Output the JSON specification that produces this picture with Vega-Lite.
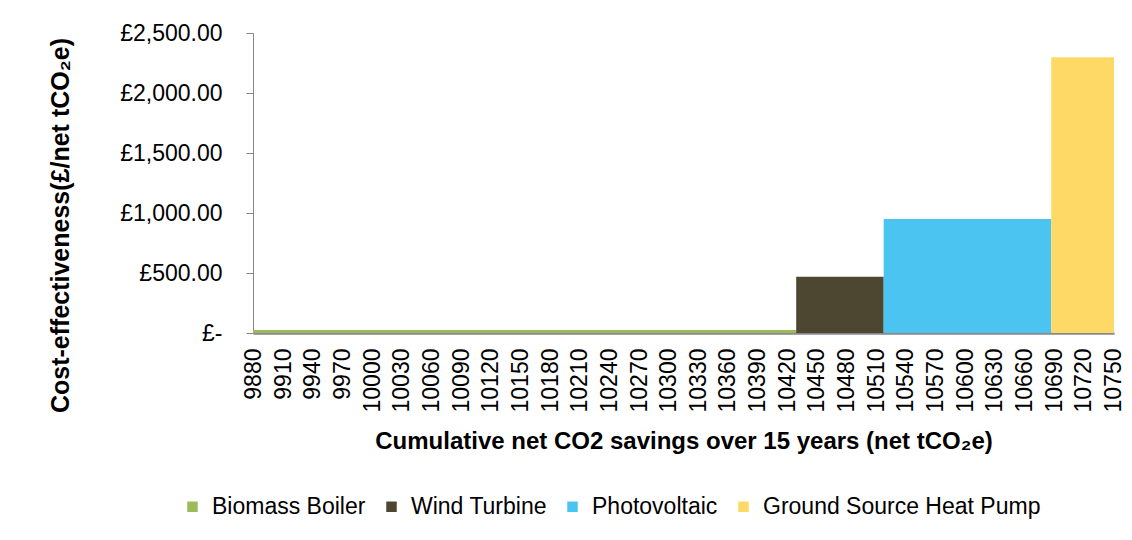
{
  "$schema": "https://vega.github.io/schema/vega-lite/v6.json",
  "width": 861,
  "height": 300,
  "autosize": {"type": "none"},
  "padding": {"left": 253, "top": 33, "right": 18, "bottom": 207},
  "background": "white",
  "config": {"view": {"stroke": null}, "font": "Liberation Sans"},
  "data": {
    "values": [
      {"technology": "Biomass Boiler", "start": 9879.5, "end": 10429, "value": 25},
      {"technology": "Wind Turbine", "start": 10429, "end": 10517.5, "value": 468},
      {"technology": "Photovoltaic", "start": 10517.5, "end": 10687, "value": 950},
      {"technology": "Ground Source Heat Pump", "start": 10687, "end": 10750.5, "value": 2297}
    ]
  },
  "mark": {"type": "rect"},
  "encoding": {
    "x": {
      "field": "start",
      "type": "quantitative",
      "scale": {"domain": [9879.5, 10750.5], "nice": false, "zero": false},
      "axis": {
        "title": "Cumulative net CO2 savings over 15 years (net tCO₂e)",
        "values": [9880, 9910, 9940, 9970, 10000, 10030, 10060, 10090, 10120, 10150, 10180, 10210, 10240, 10270, 10300, 10330, 10360, 10390, 10420, 10450, 10480, 10510, 10540, 10570, 10600, 10630, 10660, 10690, 10720, 10750],
        "format": "d",
        "labelAngle": -90,
        "labelFontSize": 23,
        "labelPadding": 15,
        "labelColor": "black",
        "labelFlush": false,
        "labelOverlap": false,
        "labelBound": false,
        "ticks": false,
        "grid": false,
        "domainColor": "#898989",
        "domainWidth": 2.5,
        "titleFontSize": 24,
        "titleFontWeight": "bold",
        "titleColor": "black",
        "titleX": 430.5,
        "titleY": 115,
        "titleAlign": "center",
        "titleBaseline": "alphabetic"
      }
    },
    "x2": {"field": "end"},
    "y": {
      "field": "value",
      "type": "quantitative",
      "scale": {"domain": [0, 2500], "nice": false},
      "axis": {
        "title": "Cost-effectiveness(£/net tCO₂e)",
        "values": [0, 500, 1000, 1500, 2000, 2500],
        "labelExpr": "datum.value == 0 ? '£-  ' : '£' + format(datum.value, ',.2f')",
        "labelFontSize": 23,
        "labelPadding": 24,
        "labelColor": "black",
        "labelFlush": false,
        "labelOverlap": false,
        "tickSize": 7,
        "tickColor": "#868686",
        "domainColor": "#868686",
        "grid": false,
        "titleFontSize": 25,
        "titleFontWeight": "bold",
        "titleColor": "black",
        "titleX": -193,
        "titleY": 192,
        "titleAngle": -90,
        "titleAlign": "center",
        "titleBaseline": "middle"
      }
    },
    "y2": {"datum": 0},
    "fill": {
      "field": "technology",
      "type": "nominal",
      "scale": {
        "domain": ["Biomass Boiler", "Wind Turbine", "Photovoltaic", "Ground Source Heat Pump"],
        "range": ["#9BBB59", "#4D4731", "#4CC4F2", "#FFD966"]
      },
      "legend": {
        "orient": "none",
        "legendX": -72,
        "legendY": 462,
        "direction": "horizontal",
        "columns": 4,
        "title": null,
        "symbolType": "square",
        "symbolSize": 110,
        "symbolStrokeWidth": 0,
        "labelFontSize": 23,
        "labelColor": "black",
        "labelLimit": 500,
        "labelOffset": 8,
        "columnPadding": 14,
        "padding": 0
      }
    }
  }
}
